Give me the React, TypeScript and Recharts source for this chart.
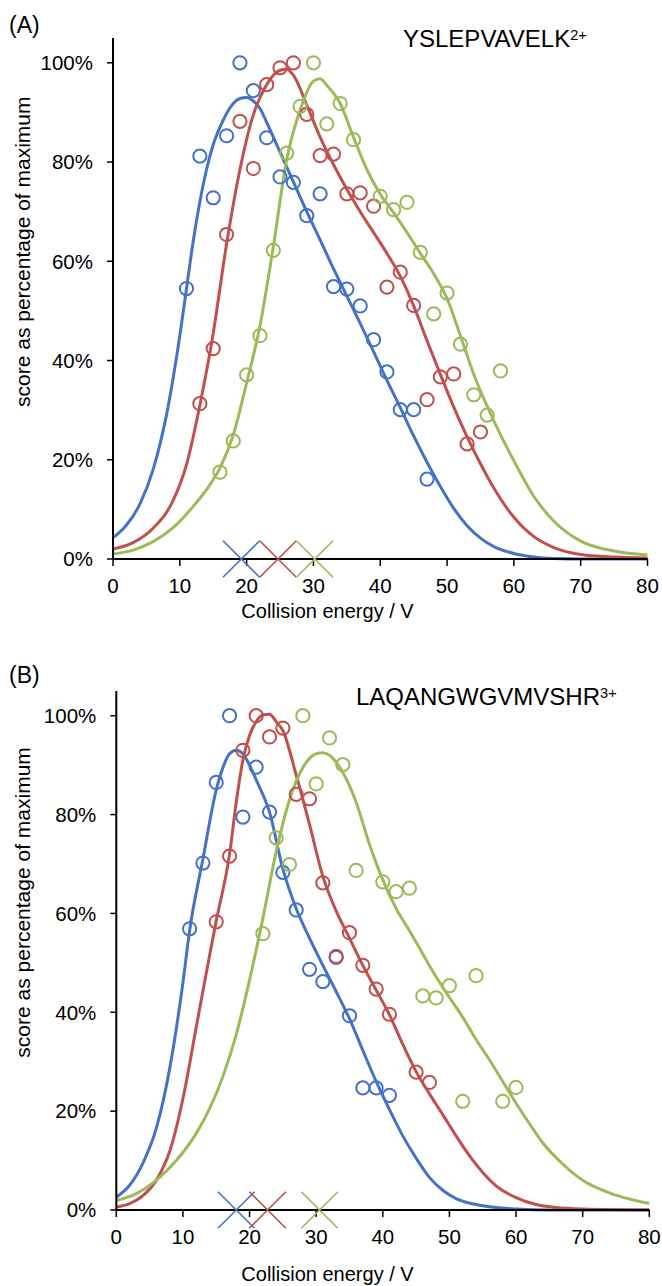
import React from 'react';
import { ComposedChart, Line, Scatter, XAxis, YAxis } from 'recharts';

const BLUE = '#4472C4';
const RED = '#C0504D';
const GREEN = '#9BBB59';
const FONT = '"Liberation Sans", Arial, sans-serif';

// ---------- Panel A : YSLEPVAVELK 2+ ----------
const aBlueX = [11, 13, 15, 17, 19, 21, 23, 25, 27, 29, 31, 33, 35, 37, 39, 41, 43, 45, 47];
const aBlueY = [54.5, 81.2, 72.8, 85.3, 100, 94.4, 84.9, 77.0, 75.9, 69.2, 73.6, 54.9, 54.4, 51.0, 44.2, 37.7, 30.1, 30.1, 16.1];
const aRedX = [13, 15, 17, 19, 21, 23, 25, 27, 29, 31, 33, 35, 37, 39, 41, 43, 45, 47, 49, 51, 53, 55];
const aRedY = [31.3, 42.4, 65.4, 88.2, 78.7, 95.6, 99.0, 100, 89.6, 81.3, 81.6, 73.6, 73.8, 71.1, 54.8, 57.8, 51.1, 32.1, 36.7, 37.3, 23.2, 25.6];
const aGreenX = [16, 18, 20, 22, 24, 26, 28, 30, 32, 34, 36, 40, 42, 44, 46, 48, 50, 52, 54, 56, 58];
const aGreenY = [17.5, 23.8, 37.1, 45.0, 62.2, 81.8, 91.2, 100, 87.7, 91.8, 84.5, 73.1, 70.4, 71.9, 61.8, 49.4, 53.6, 43.3, 33.1, 29.0, 37.9];

const aBlueFitX = [0, 2, 4, 6, 8, 10, 11, 12, 13, 14, 15, 16, 17, 18, 19, 20, 21, 22, 23, 25, 27, 29, 31, 33, 35, 37, 39, 41, 43, 45, 47, 49, 51, 53, 55, 57, 60, 63, 66, 70, 75, 80];
const aBlueFitY = [4.3, 6.8, 11, 18, 29, 45, 54.5, 64, 72, 78.5, 83.5, 87, 89.8, 91.8, 92.8, 93, 92.3, 90.8, 88, 82, 76, 70, 64.3, 58.5, 53, 47.5, 41.8, 36, 30.5, 24.8, 19.5, 14.6, 10.2, 6.7, 4.2, 2.5, 1.1, 0.4, 0.1, 0, 0, 0];
const aRedFitX = [0, 3, 6, 9, 11, 13, 15, 17, 19, 21, 23, 25, 26, 27, 29, 31, 33, 35, 37, 39, 41, 43, 45, 47, 49, 51, 53, 55, 57, 60, 63, 66, 70, 75, 80];
const aRedFitY = [2, 3.3, 6.2, 11.8, 19, 31, 45.5, 63.5, 78.5, 89.5, 95.6, 98.5, 98.7, 97.5, 91.5, 85, 79.5, 74.5, 70, 65.8, 61.6, 57, 51, 44, 37.2, 30.6, 24.6, 19.2, 14.3, 8.4, 4.5, 2.3, 0.9, 0.4, 0.2];
const aGreenFitX = [0, 3, 6, 9, 12, 14, 16, 18, 20, 22, 24, 26, 28, 30, 31, 32, 34, 36, 38, 40, 42, 44, 46, 48, 50, 52, 54, 56, 58, 60, 63, 66, 70, 75, 80];
const aGreenFitY = [1, 1.8, 3.5, 6.3, 10.6, 14, 18.3, 25, 35.5, 47, 63, 80.5, 90.5, 96.3, 96.8, 95.5, 91.8, 85, 78.5, 73.5, 69.8, 65.8, 61.6, 57.5, 52.5, 45, 37.2, 30.8, 25, 19.8, 12.6, 7.6, 3.6, 1.6, 0.8];
const aMarkX = [19.2, 24.7, 30.2];

// ---------- Panel B : LAQANGWGVMVSHR 3+ ----------
const bBlueX = [11, 13, 15, 17, 19, 21, 23, 25, 27, 29, 31, 33, 35, 37, 39, 41];
const bBlueY = [56.9, 70.2, 86.5, 100, 79.5, 89.6, 80.5, 68.3, 60.7, 48.7, 46.2, 51.1, 39.3, 24.7, 24.7, 23.2];
const bRedX = [15, 17, 19, 21, 23, 25, 27, 29, 31, 33, 35, 37, 39, 41, 45, 47];
const bRedY = [58.3, 71.6, 93.0, 100, 95.7, 97.5, 84.1, 83.2, 66.2, 51.3, 56.1, 49.5, 44.7, 39.6, 27.9, 25.8];
const bGreenX = [22, 24, 26, 28, 30, 32, 34, 36, 40, 42, 44, 46, 48, 50, 52, 54, 58, 60];
const bGreenY = [55.9, 75.3, 69.9, 100, 86.2, 95.5, 90.1, 68.7, 66.4, 64.4, 65.1, 43.3, 42.9, 45.4, 22.0, 47.4, 22.0, 24.8];

const bBlueFitX = [0, 2, 4, 6, 8, 10, 11, 13, 15, 16, 17, 18, 19, 20, 21, 23, 25, 27, 29, 31, 33, 35, 37, 39, 41, 43, 45, 47, 49, 51, 54, 57, 60, 65, 70, 80];
const bBlueFitY = [2.6, 5, 9.5, 16.5, 28.5, 46, 56.5, 71, 85, 89.5, 92.3, 93, 92.3, 90, 87, 80.5, 69, 61, 55, 49.5, 44.2, 38.7, 32.3, 26, 20.3, 15, 10.5, 6.6, 4, 2.3, 1.1, 0.5, 0.2, 0, 0, 0];
const bRedFitX = [0, 2, 4, 6, 7, 8, 10, 12, 14, 15, 17, 18, 19, 20, 21, 22, 23, 24, 25, 27, 29, 31, 33, 35, 37, 39, 41, 43, 45, 47, 49, 51, 53, 55, 57, 60, 63, 66, 70, 80];
const bRedFitY = [0.6, 1.3, 2.9, 6, 8.5, 11.8, 22.5, 37, 51.5, 58.5, 72, 82.5, 91, 96, 98.8, 100.2, 100.3, 98.8, 97, 88, 78, 67.5, 60.5, 55, 49.5, 44.5, 39.5, 33.5, 28, 23.5, 19.3, 15, 11, 7.6, 4.9, 2.5, 1.1, 0.5, 0.2, 0];
const bGreenFitX = [0, 3, 6, 9, 12, 14, 16, 18, 20, 22, 24, 26, 28, 30, 31, 32, 34, 36, 38, 40, 42, 44, 46, 48, 50, 52, 54, 56, 58, 60, 62, 64, 67, 70, 75, 80];
const bGreenFitY = [1.9, 3.3, 6, 10, 15.5, 20.5, 27, 35.5, 46.5, 59, 72.5, 83, 89.5, 92.3, 92.5, 92, 88.5, 82.5, 74, 66.8, 61, 56.5, 51.8, 47.2, 43, 39, 34.5, 30.4, 26, 21.6, 17.5, 13.6, 9.3, 6, 3, 1.3];
const bMarkX = [18.0, 22.7, 30.5];

const xTicks = [0, 10, 20, 30, 40, 50, 60, 70, 80];
const yTicks = [0, 20, 40, 60, 80, 100];

const zip = (xs: number[], ys: number[]) => xs.map((x, i) => ({ x, y: ys[i] }));

const circleShape = (color: string) => (props: any) => {
  const { cx, cy } = props;
  if (cx == null || cy == null) return <g />;
  return <circle cx={cx} cy={cy} r={6.6} fill="none" stroke={color} strokeWidth={2} />;
};

const crossShape = (color: string) => (props: any) => {
  const { cx, cy } = props;
  if (cx == null || cy == null) return <g />;
  const h = 18.3;
  return (
    <path
      d={`M${cx - h},${cy - h}L${cx + h},${cy + h}M${cx + h},${cy - h}L${cx - h},${cy + h}`}
      stroke={color}
      strokeWidth={1.6}
      fill="none"
    />
  );
};

type PanelProps = {
  top: number;
  marginLeft: number;
  marginRight: number;
  marginTop: number;
  fits: { x: number[]; y: number[]; color: string }[];
  pts: { x: number[]; y: number[]; color: string }[];
  marks: number[];
};

const Panel = ({ top, marginLeft, marginRight, marginTop, fits, pts, marks }: PanelProps) => {
  const colors = [BLUE, RED, GREEN];
  return (
    <div style={{ position: 'absolute', left: 0, top, width: 662, height: 600 }}>
      <ComposedChart
        width={662}
        height={600}
        margin={{ top: marginTop, right: marginRight, bottom: 1, left: marginLeft }}
      >
        <XAxis
          type="number"
          dataKey="x"
          domain={[0, 80]}
          ticks={xTicks}
          interval={0}
          height={40}
          tickSize={7}
          tickMargin={12}
          axisLine={{ stroke: '#000', strokeWidth: 2 }}
          tickLine={{ stroke: '#000', strokeWidth: 1.5 }}
          tick={{ fill: '#000', fontSize: 20.5, fontFamily: FONT }}
        />
        <YAxis
          type="number"
          dataKey="y"
          domain={[0, 105]}
          ticks={yTicks}
          interval={0}
          width={70}
          tickSize={6}
          tickMargin={14}
          tickFormatter={(v: number) => `${v}%`}
          axisLine={{ stroke: '#000', strokeWidth: 2 }}
          tickLine={{ stroke: '#000', strokeWidth: 1.5 }}
          tick={{ fill: '#000', fontSize: 20.5, fontFamily: FONT }}
        />
        {fits.map((f, i) => (
          <Line
            key={`fit${i}`}
            data={zip(f.x, f.y)}
            dataKey="y"
            type="monotone"
            stroke={f.color}
            strokeWidth={3}
            dot={false}
            activeDot={false}
            isAnimationActive={false}
          />
        ))}
        {pts.map((p, i) => (
          <Scatter
            key={`pts${i}`}
            data={zip(p.x, p.y)}
            dataKey="y"
            shape={circleShape(p.color)}
            isAnimationActive={false}
          />
        ))}
        {marks.map((m, i) => (
          <Scatter
            key={`mk${i}`}
            data={[{ x: m, y: 0 }]}
            dataKey="y"
            shape={crossShape(colors[i])}
            isAnimationActive={false}
          />
        ))}
      </ComposedChart>
    </div>
  );
};

export default function App() {
  return (
    <div style={{ position: 'absolute', left: 0, top: 0, width: 662, height: 1286, background: '#fff', overflow: 'hidden' }}>
      <Panel
        top={0}
        marginLeft={43}
        marginRight={14.5}
        marginTop={38}
        fits={[
          { x: aBlueFitX, y: aBlueFitY, color: BLUE },
          { x: aRedFitX, y: aRedFitY, color: RED },
          { x: aGreenFitX, y: aGreenFitY, color: GREEN },
        ]}
        pts={[
          { x: aBlueX, y: aBlueY, color: BLUE },
          { x: aRedX, y: aRedY, color: RED },
          { x: aGreenX, y: aGreenY, color: GREEN },
        ]}
        marks={aMarkX}
      />
      <Panel
        top={651}
        marginLeft={46.3}
        marginRight={12.7}
        marginTop={40}
        fits={[
          { x: bBlueFitX, y: bBlueFitY, color: BLUE },
          { x: bRedFitX, y: bRedFitY, color: RED },
          { x: bGreenFitX, y: bGreenFitY, color: GREEN },
        ]}
        pts={[
          { x: bBlueX, y: bBlueY, color: BLUE },
          { x: bRedX, y: bRedY, color: RED },
          { x: bGreenX, y: bGreenY, color: GREEN },
        ]}
        marks={bMarkX}
      />
      <svg
        width={662}
        height={1286}
        style={{ position: 'absolute', left: 0, top: 0, pointerEvents: 'none' }}
        fontFamily={FONT}
      >
        <text x={9} y={33.3} fontSize={23} fill="#000">(A)</text>
        <text x={403} y={46.7} fontSize={24} fill="#000">
          YSLEPVAVELK<tspan fontSize={14.6} dy={-7}>2+</tspan>
        </text>
        <text x={30.5} y={251.7} fontSize={21} fill="#000" textAnchor="middle" transform="rotate(-90 30.5 251.7)">
          score as percentage of maximum
        </text>
        <text x={327.5} y={618} fontSize={20} fill="#000" textAnchor="middle">Collision energy / V</text>

        <text x={9} y={682.7} fontSize={23} fill="#000">(B)</text>
        <text x={356} y={705} fontSize={24} fill="#000">
          LAQANGWGVMVSHR<tspan fontSize={14.6} dy={-7}>3+</tspan>
        </text>
        <text x={30.5} y={902.4} fontSize={21} fill="#000" textAnchor="middle" transform="rotate(-90 30.5 902.4)">
          score as percentage of maximum
        </text>
        <text x={327.5} y={1281} fontSize={20} fill="#000" textAnchor="middle">Collision energy / V</text>
      </svg>
    </div>
  );
}
